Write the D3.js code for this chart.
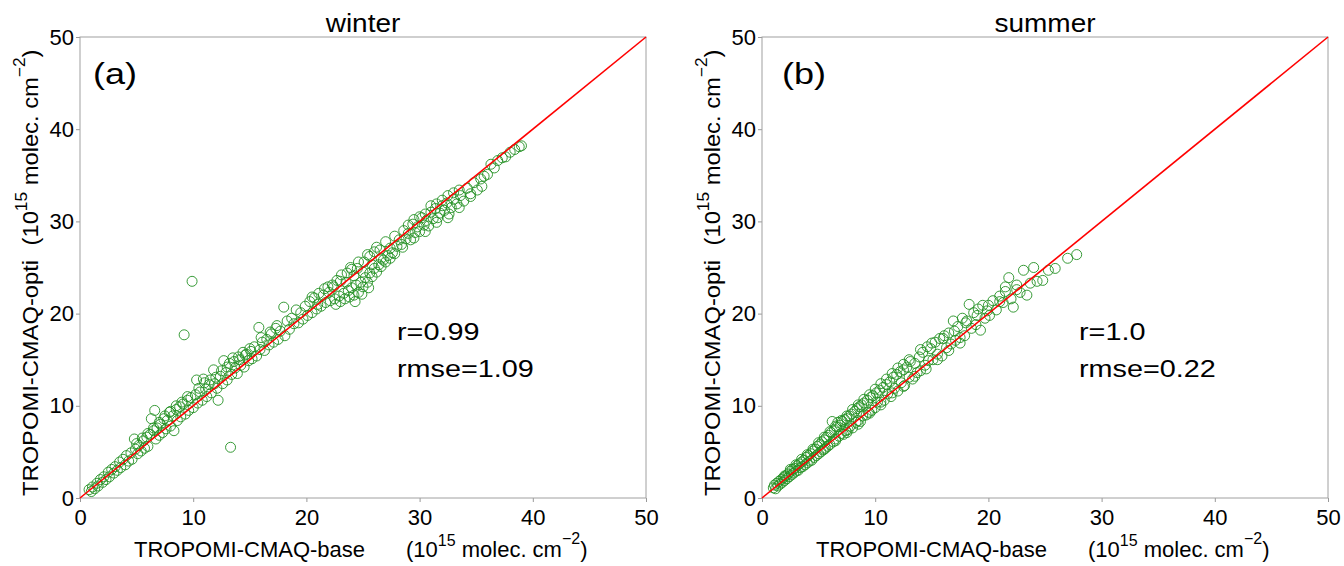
<!DOCTYPE html>
<html>
<head>
<meta charset="utf-8">
<script src="https://cdn.jsdelivr.net/npm/d3@7"></script>
<style>
  body { margin: 0; background: #fff; }
  svg { font-family: 'Liberation Sans', Arial, sans-serif; }
</style>
</head>
<body>
<svg id="chart" width="1344" height="566"></svg>
<script>
// data: [TROPOMI-CMAQ-base, TROPOMI-CMAQ-opti]
const winterPts = [
  [0.8,0.9],[1.0,0.7],[1.1,1.2],[1.3,1.0],[1.5,1.6],[1.6,1.3],[1.8,2.0],[2.0,1.7],[2.1,2.3],[2.3,2.0],
  [2.5,2.8],[2.6,2.3],[2.8,3.1],[3.0,2.7],[3.1,3.4],[3.3,3.0],[3.5,3.9],[3.6,3.3],[3.8,4.2],[4.0,3.6],
  [4.1,4.6],[4.3,4.0],[4.5,4.9],[4.6,4.2],[4.8,6.4],[4.9,5.3],[5.1,4.8],[5.2,5.7],[5.4,5.1],[5.6,6.2],
  [5.7,5.4],[5.9,6.6],[6.0,5.6],[6.2,6.9],[6.3,8.6],[6.5,7.3],[6.6,9.5],[6.7,6.4],[6.8,7.6],[7.0,6.8],
  [7.1,8.0],[7.3,7.1],[7.4,8.6],[7.6,7.5],[7.7,8.4],[7.9,9.3],[8.0,7.8],[8.2,8.9],[8.3,7.3],[8.5,9.6],
  [8.6,8.4],[8.8,9.9],[8.9,8.8],[9.1,10.2],[9.2,17.7],[9.3,9.1],[9.5,10.6],[9.6,9.5],[9.8,10.9],[9.9,23.5],
  [10.0,9.8],[10.2,11.2],[10.3,12.8],[10.4,10.3],[10.6,11.5],[10.8,10.6],[10.9,12.9],[11.1,11.8],[11.2,11.0],[11.4,12.3],
  [11.6,11.4],[11.8,13.9],[11.9,12.4],[12.1,11.9],[12.2,10.6],[12.4,13.2],[12.6,12.4],[12.7,14.9],[12.9,13.6],[13.0,12.8],
  [13.2,14.6],[13.3,5.5],[13.4,13.4],[13.5,15.2],[13.7,14.1],[13.9,13.5],[14.0,15.3],[14.2,14.4],[14.4,15.8],[14.5,14.2],
  [14.7,15.6],[14.9,14.9],[15.0,16.2],[15.2,15.1],[15.4,16.4],[15.6,15.4],[15.8,18.5],[15.9,16.1],[16.1,16.9],[16.3,16.0],
  [16.5,17.2],[16.7,16.6],[16.9,17.8],[17.1,16.9],[17.3,18.4],[17.5,17.2],[17.7,18.1],[18.0,20.7],[18.1,17.6],[18.3,19.2],
  [18.5,18.3],[18.7,19.5],[18.9,18.9],[19.1,20.4],[19.3,19.0],[19.5,20.1],[19.7,19.4],[19.9,20.8],[20.1,19.8],[20.3,21.3],
  [20.5,20.1],[20.7,21.7],[20.9,20.5],[21.1,22.2],[21.3,20.8],[21.5,22.0],[21.7,21.2],[21.9,22.9],[22.1,21.4],[22.3,23.1],
  [22.5,21.6],[22.7,23.6],[22.9,21.9],[23.1,24.2],[23.3,22.2],[23.5,23.4],[23.7,22.5],[23.9,25.0],[24.0,22.8],[24.2,24.1],
  [24.4,23.1],[24.6,25.6],[24.8,23.4],[25.0,24.5],[25.2,23.9],[25.4,26.4],[25.6,24.4],[25.8,25.3],[26.0,24.9],[26.2,27.2],
  [26.4,25.3],[26.6,26.0],[26.8,25.8],[27.0,27.8],[27.2,26.3],[27.4,27.1],[27.6,26.6],[27.8,28.4],[28.0,27.3],[28.2,28.0],
  [28.4,27.5],[28.6,29.0],[28.8,28.1],[29.0,28.7],[29.2,28.0],[29.4,29.7],[29.6,28.8],[29.8,29.4],[30.0,28.9],[30.2,30.4],
  [30.4,29.6],[30.6,30.1],[30.8,29.5],[31.0,31.0],[31.2,30.3],[31.4,31.4],[31.6,30.4],[31.8,30.9],[32.0,31.7],[32.2,31.2],
  [32.4,32.0],[32.6,30.8],[32.8,31.5],[33.0,32.4],[33.3,31.9],[33.6,32.8],[33.9,32.2],[34.2,33.6],[34.5,33.0],[34.8,34.2],
  [35.1,33.4],[35.4,34.6],[35.7,34.9],[36.0,35.1],[36.3,36.2],[36.6,35.8],[36.9,36.6],[37.3,36.9],[37.6,37.0],[38.0,37.5],
  [38.4,37.8],[38.8,38.1],[39.0,38.2],
  [22.6,21.0],[23.0,21.3],[23.4,21.6],[23.8,21.8],[24.2,22.0],[24.6,22.3],[25.0,22.9],[25.4,23.4],[25.8,24.0],[26.2,24.5],
  [26.6,25.1],[27.0,25.6],[27.4,26.0],[27.8,26.5],[24.3,21.3],[24.9,22.1],[25.5,22.8],[20.5,21.8],[21.0,21.0],[21.6,22.7],
  [22.0,22.3],[22.4,22.9],[23.0,23.5],[23.6,24.4],[24.0,24.8],[24.5,24.9],[25.1,25.6],[25.6,26.2],[26.0,26.7],[26.5,26.9],
  [10.5,11.9],[11.0,12.5],[11.5,12.8],[12.0,13.1],[12.5,13.8],[13.0,14.2],[13.6,14.8],[14.1,15.0],[14.6,15.5],[15.1,15.9],
  [16.0,17.4],[16.8,18.0],[17.4,18.7],[5.0,5.9],[5.5,6.5],[6.0,7.0],[6.5,7.6],[7.0,8.2],[7.5,8.9],[8.0,9.4],
  [8.5,10.0],[9.0,10.4],[9.5,11.0],[29.0,29.6],[29.5,30.2],[30.0,30.5],[30.5,30.8],[31.0,31.7],[31.5,31.9],[32.0,32.3],
  [32.5,32.8],[33.0,33.1],[33.5,33.4],[28.5,27.2],[29.5,28.2],[30.5,28.9],[31.5,29.9],[32.5,30.4],[33.5,31.5],[34.5,32.7],
  [35.5,33.8]
];

const summerPts = [
  [1.0,1.1],[1.1,1.4],[1.2,1.0],[1.3,1.6],[1.4,1.3],[1.5,1.8],[1.6,1.5],[1.7,2.0],[1.8,1.7],[1.9,2.2],
  [2.0,1.9],[2.1,2.4],[2.2,2.1],[2.3,2.6],[2.4,2.3],[2.5,2.9],[2.6,2.5],[2.7,3.1],[2.8,2.7],[2.9,3.2],
  [3.0,2.9],[3.1,3.5],[3.2,3.0],[3.3,3.7],[3.4,3.3],[3.5,3.9],[3.6,3.4],[3.7,4.1],[3.8,3.6],[3.9,4.4],
  [4.0,3.8],[4.1,4.6],[4.2,4.0],[4.3,4.8],[4.4,4.1],[4.5,5.1],[4.6,4.4],[4.7,5.3],[4.8,4.6],[4.9,5.6],
  [5.0,4.8],[5.1,5.8],[5.2,5.0],[5.3,6.1],[5.4,5.2],[5.5,6.3],[5.6,5.4],[5.7,6.6],[5.8,5.6],[5.9,6.8],
  [6.0,5.8],[6.1,7.1],[6.2,8.3],[6.3,6.1],[6.4,7.4],[6.5,6.4],[6.6,7.7],[6.7,8.2],[6.8,6.7],[6.9,7.9],
  [7.0,7.0],[7.1,8.3],[7.2,6.9],[7.3,8.5],[7.4,7.3],[7.5,8.6],[7.6,7.4],[7.7,8.9],[7.8,7.8],[7.9,9.1],
  [8.0,7.6],[8.2,9.4],[8.3,8.2],[8.4,9.7],[8.5,8.4],[8.6,9.9],[8.7,8.3],[8.8,10.1],[8.9,8.9],[9.0,10.3],
  [9.2,9.0],[9.3,10.6],[9.4,9.3],[9.6,10.9],[9.7,9.5],[9.8,11.1],[10.0,9.8],[10.1,11.4],[10.2,10.4],[10.4,11.7],
  [10.5,10.1],[10.7,12.0],[10.8,10.6],[11.0,12.3],[11.1,11.3],[11.3,12.6],[11.4,11.0],[11.6,13.1],[11.7,11.9],[11.9,13.4],
  [12.0,11.6],[12.2,13.7],[12.3,12.5],[12.5,13.9],[12.6,12.2],[12.8,14.2],[13.0,13.1],[13.1,14.8],[13.3,12.9],[13.5,14.6],
  [13.7,13.6],[13.9,15.3],[14.0,13.8],[14.2,15.8],[14.4,14.4],[14.6,16.4],[14.7,14.9],[14.9,16.2],[15.1,15.0],[15.3,16.9],
  [15.5,15.6],[15.7,17.3],[15.9,15.4],[16.1,17.6],[16.3,16.3],[16.5,17.9],[16.7,16.7],[16.9,19.2],[17.1,17.1],[17.3,18.6],
  [17.5,17.4],[17.7,19.5],[17.9,17.6],[18.1,19.2],[18.3,21.0],[18.5,18.4],[18.7,20.1],[18.9,18.8],[19.1,20.5],[19.3,18.2],
  [19.5,20.9],[19.7,19.5],[19.9,20.3],[20.1,19.8],[20.4,21.4],[20.7,20.4],[21.0,21.9],[21.3,21.2],[21.5,22.4],[21.8,23.9],
  [22.0,21.6],[22.2,20.7],[22.5,22.6],[22.8,22.3],[23.1,24.7],[23.4,22.0],[23.7,23.3],[24.0,25.0],[24.3,23.5],[24.8,23.6],
  [25.3,24.7],[25.9,24.9],[27.0,26.0],[27.8,26.4],
  [2.0,2.4],[2.5,3.1],[3.0,3.6],[3.5,4.2],[4.0,4.7],[4.5,5.3],[5.0,6.0],[5.5,6.6],[6.0,7.2],[6.5,7.8],
  [7.0,8.4],[7.5,8.9],[8.0,9.6],[8.5,10.1],[9.0,10.7],[9.5,11.2],[10.0,11.8],[10.5,12.4],[11.0,12.9],[11.5,13.5],
  [12.0,14.1],[12.5,14.5],[13.0,15.0],[5.5,5.3],[6.5,6.2],[7.5,7.1],[8.5,8.0],[9.5,9.2],[10.5,10.4],[11.5,11.4],
  [12.5,12.1],[13.5,13.2],[14.5,14.0],[15.5,15.0],[16.5,16.0],[17.5,16.8],[14.0,16.1],[15.0,16.8],[16.0,17.3],[17.0,18.1],
  [18.0,19.0],[19.0,19.8],[20.0,20.9],[21.0,21.3],[21.5,22.9],[22.5,23.1]
];

const panelTitles = ['winter', 'summer'];
const panelTags = ['(a)', '(b)'];
const statR = ['r=0.99', 'r=1.0'];
const statRmse = ['rmse=1.09', 'rmse=0.22'];
const axisDomain = [0, 50];
const tickVals = [0, 10, 20, 30, 40, 50];

const svg = d3.select('#chart');
const panels = [
  { left: 80, pts: winterPts, tagX: 13 },
  { left: 762, pts: summerPts, tagX: 20 }
];
const plotTop = 37, plotW = 566, plotH = 461;

// text squeezed a bit wide like the original export
function wideText(g, x, y, size, sx, str, anchor) {
  return g.append('text')
    .attr('transform', `translate(${x},${y}) scale(${sx},1)`)
    .attr('text-anchor', anchor || 'start')
    .style('font-size', `${size}px`)
    .text(str);
}

function unitLabel(el, name, gap) {
  el.append('tspan').text(name);
  el.append('tspan').attr('x', gap).text('(10');
  el.append('tspan').attr('dy', -11).style('font-size', '16px').text('15');
  el.append('tspan').attr('dy', 11).text('\u00a0molec. cm');
  el.append('tspan').attr('dy', -13).style('font-size', '16px').text('\u22122');
  el.append('tspan').attr('dy', 13).text(')');
}

panels.forEach((p, i) => {
  const x = d3.scaleLinear().domain(axisDomain).range([0, plotW]);
  const y = d3.scaleLinear().domain(axisDomain).range([plotH, 0]);
  const g = svg.append('g').attr('transform', `translate(${p.left},${plotTop})`);

  // axes
  const xAxis = g.append('g').attr('transform', `translate(0,${plotH})`)
    .call(d3.axisBottom(x).tickValues(tickVals).tickSize(4).tickSizeOuter(0).tickPadding(7));
  const yAxis = g.append('g')
    .call(d3.axisLeft(y).tickValues(tickVals).tickSize(4).tickSizeOuter(0).tickPadding(2));
  [xAxis, yAxis].forEach(a => {
    a.select('.domain').remove();
    a.selectAll('line').attr('stroke', '#999');
    a.selectAll('text').attr('fill', '#000').style('font-size', '22px');
  });

  g.append('rect')
    .attr('width', plotW).attr('height', plotH)
    .attr('fill', 'none').attr('stroke', '#a0a0a0').attr('stroke-width', 1);

  // points
  g.append('g').selectAll('circle')
    .data(p.pts)
    .enter()
    .append('circle')
    .attr('cx', d => x(d[0]))
    .attr('cy', d => y(d[1]))
    .attr('r', 5)
    .attr('fill', 'none')
    .attr('stroke', '#239023')
    .attr('stroke-width', 0.9);

  // 1:1 line
  g.append('line')
    .attr('x1', x(axisDomain[0])).attr('y1', y(axisDomain[0]))
    .attr('x2', x(axisDomain[1])).attr('y2', y(axisDomain[1]))
    .attr('stroke', '#ff0000').attr('stroke-width', 1.6);

  wideText(g, plotW / 2, -5, 25, 1.12, panelTitles[i], 'middle');
  wideText(g, p.tagX, 47, 30, 1.2, panelTags[i]);
  wideText(g, 317, 303, 24, 1.2, statR[i]);
  wideText(g, 317, 340, 24, 1.2, statRmse[i]);

  // x label
  const xl = g.append('text')
    .attr('transform', 'translate(54,520)')
    .style('font-size', '22px');
  unitLabel(xl, 'TROPOMI-CMAQ-base', 272);

  // y label
  const yl = g.append('text')
    .attr('transform', `translate(-42,${plotH - 2}) rotate(-90) scale(1.08,1)`)
    .style('font-size', '22px');
  unitLabel(yl, 'TROPOMI-CMAQ-opti', 232);
});
</script>
</body>
</html>
